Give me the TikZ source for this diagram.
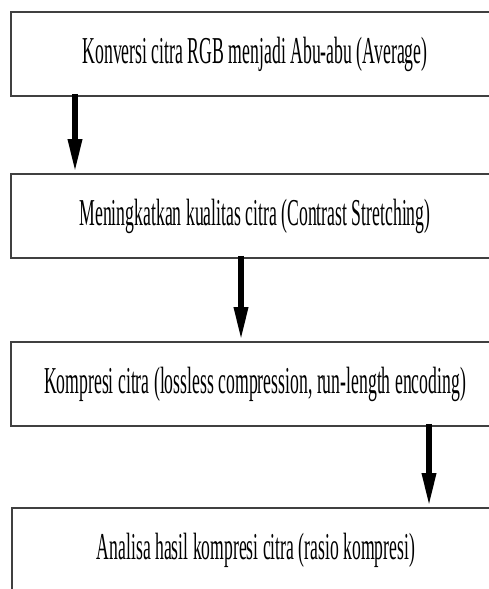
\documentclass[tikz,border=0pt]{standalone}
\usepackage{fontspec}
\setmainfont{Liberation Serif}
\usetikzlibrary{arrows.meta}
\newcommand\sqtxt[2]{\resizebox{#1}{\height}{\fontsize{38}{42}\selectfont #2}}
\tikzset{
  stepbox/.style={draw=black!75, line width=1.6pt, minimum width=488pt, minimum height=84pt, inner sep=0pt, anchor=center},
  flowarrow/.style={line width=6pt, -{Triangle[length=34pt,width=13pt]}}
}
\begin{document}
\begin{tikzpicture}[x=1pt,y=-1pt]
\useasboundingbox (0,0) rectangle (488,589);
\node[stepbox] (b1) at (255,54) {\sqtxt{345pt}{Konversi citra RGB menjadi Abu-abu (Average)}};
\node[stepbox] (b2) at (255,216) {\sqtxt{351pt}{Meningkatkan kualitas citra (Contrast Stretching)}};
\node[stepbox] (b3) at (255,384) {\sqtxt{422pt}{Kompresi citra (lossless compression, run-length encoding)}};
\node[stepbox] (b4) at (256,550) {\sqtxt{318pt}{Analisa hasil kompresi citra (rasio kompresi)}};
\coordinate (x1) at (75,0);
\coordinate (x2) at (241,0);
\coordinate (x3) at (429,0);
\draw[flowarrow] ([yshift=3pt]b1.south -| x1) -- (b2.north -| x1);
\draw[flowarrow] ([yshift=3pt]b2.south -| x2) -- (b3.north -| x2);
\draw[flowarrow] ([yshift=3pt]b3.south -| x3) -- (b4.north -| x3);
\end{tikzpicture}
\end{document}
